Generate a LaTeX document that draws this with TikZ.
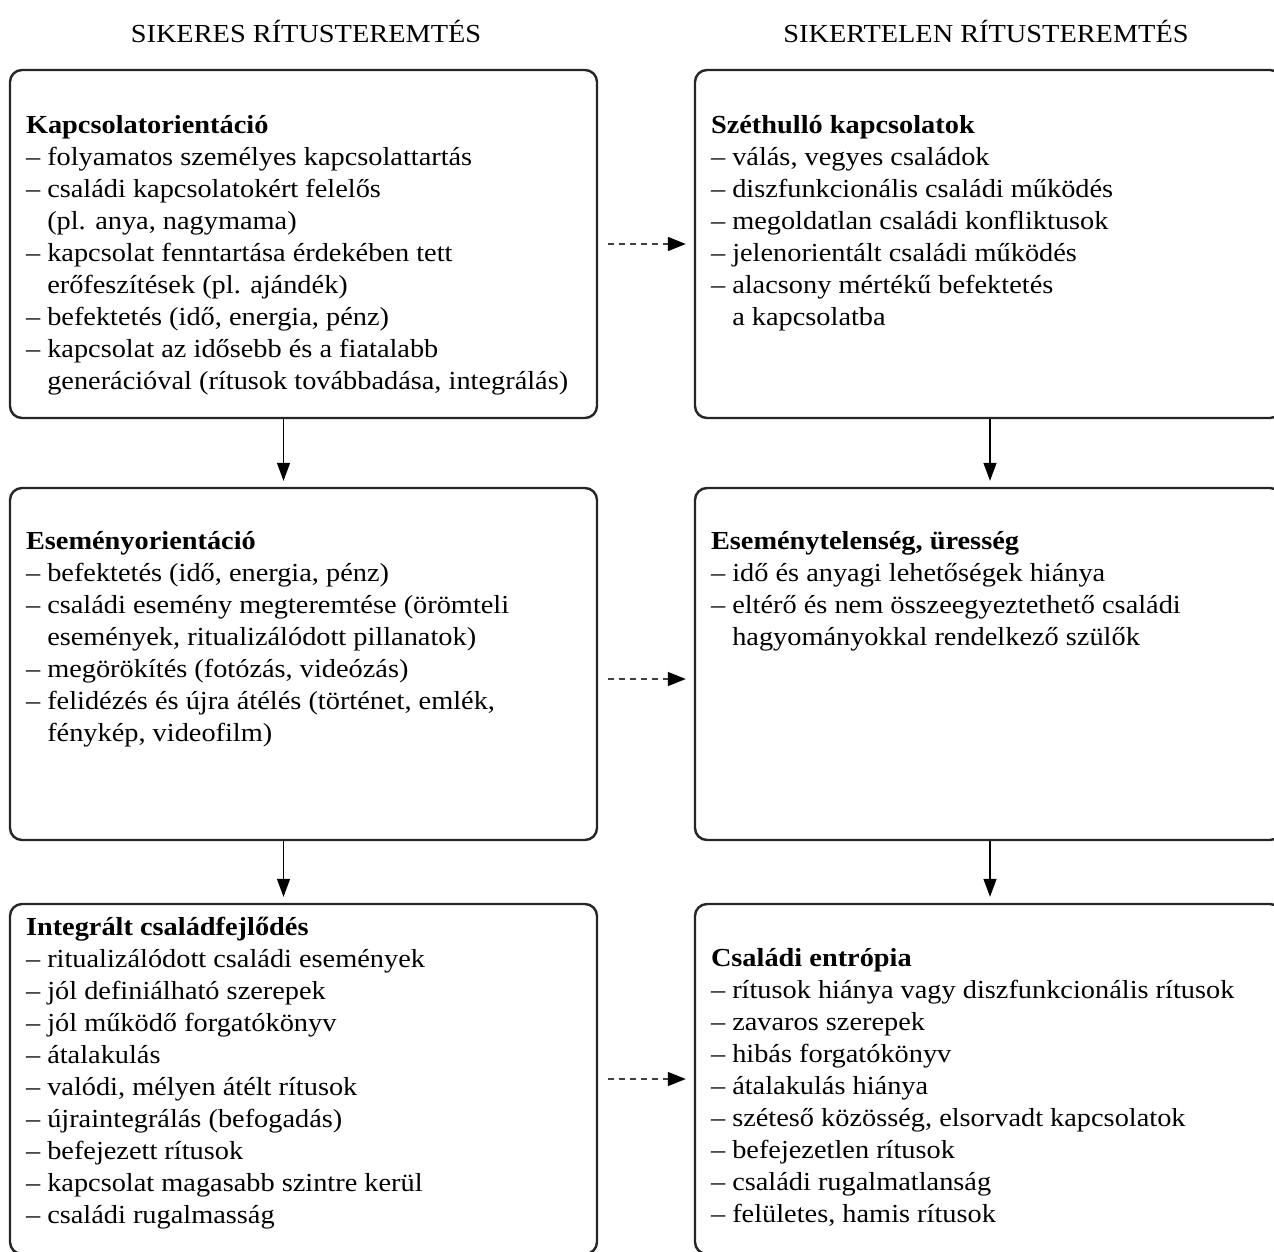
\documentclass[tikz,border=0pt]{standalone}
\usepackage{fontspec}
\setmainfont{Liberation Serif}[FakeStretch=1.09]
\usetikzlibrary{arrows.meta,positioning}
\tikzstyle{panel}=[rectangle, draw=black!85, line width=2.4pt, rounded corners=12pt, minimum width=587pt, inner sep=0pt]
\tikzstyle{entry}=[anchor=north west, align=left, inner sep=0pt, font=\fontsize{26}{32}\selectfont]
\tikzstyle{heading}=[anchor=base, inner sep=0pt, font=\fontsize{26}{32}\selectfont]
\tikzstyle{flow}=[-{Triangle[length=18pt,width=13pt]}, line width=1.3pt, shorten >=6pt]
\tikzstyle{link}=[-{Triangle[length=18pt,width=14pt,black]}, line width=1.4pt, dash pattern=on 6pt off 5pt, draw=black!75, shorten <=10pt, shorten >=8pt]
\newcommand{\cont}{\hphantom{– }}

\begin{document}
\begin{tikzpicture}[x=1pt,y=-1pt]
        \useasboundingbox (0,0) rectangle (1274,1251);
        \clip (0,0) rectangle (1274,1251);

        \node [style=heading] (sikeres) at (306, 42) {SIKERES RÍTUSTEREMTÉS};
        \node [style=heading] (sikertelen) at (986, 42) {SIKERTELEN RÍTUSTEREMTÉS};

        \node [style=panel, minimum height=348pt] (kapcs) at (303.5, 244) {};
        \node [style=panel, minimum height=348pt] (szet) at (988.5, 244) {};
        \node [style=panel, minimum height=352pt] (esem) at (303.5, 664) {};
        \node [style=panel, minimum height=352pt] (ures) at (988.5, 664) {};
        \node [style=panel, minimum height=350pt] (integ) at (303.5, 1079) {};
        \node [style=panel, minimum height=350pt] (entr) at (988.5, 1079) {};

        \node [style=entry] (kapcs-txt) at ([shift={(17pt,-46pt)}]kapcs.north west) {\textbf{Kapcsolatorientáció}\\
            – folyamatos személyes kapcsolattartás\\
            – családi kapcsolatokért felelős\\
            \cont(pl. anya, nagymama)\\
            – kapcsolat fenntartása érdekében tett\\
            \cont erőfeszítések (pl. ajándék)\\
            – befektetés (idő, energia, pénz)\\
            – kapcsolat az idősebb és a fiatalabb\\
            \cont generációval (rítusok továbbadása, integrálás)};
        \node [style=entry] (szet-txt) at ([shift={(17pt,-46pt)}]szet.north west) {\textbf{Széthulló kapcsolatok}\\
            – válás, vegyes családok\\
            – diszfunkcionális családi működés\\
            – megoldatlan családi konfliktusok\\
            – jelenorientált családi működés\\
            – alacsony mértékű befektetés\\
            \cont a kapcsolatba};
        \node [style=entry] (esem-txt) at ([shift={(17pt,-44pt)}]esem.north west) {\textbf{Eseményorientáció}\\
            – befektetés (idő, energia, pénz)\\
            – családi esemény megteremtése (örömteli\\
            \cont események, ritualizálódott pillanatok)\\
            – megörökítés (fotózás, videózás)\\
            – felidézés és újra átélés (történet, emlék,\\
            \cont fénykép, videofilm)};
        \node [style=entry] (ures-txt) at ([shift={(17pt,-44pt)}]ures.north west) {\textbf{Eseménytelenség, üresség}\\
            – idő és anyagi lehetőségek hiánya\\
            – eltérő és nem összeegyeztethető családi\\
            \cont hagyományokkal rendelkező szülők};
        \node [style=entry] (integ-txt) at ([shift={(17pt,-14pt)}]integ.north west) {\textbf{Integrált családfejlődés}\\
            – ritualizálódott családi események\\
            – jól definiálható szerepek\\
            – jól működő forgatókönyv\\
            – átalakulás\\
            – valódi, mélyen átélt rítusok\\
            – újraintegrálás (befogadás)\\
            – befejezett rítusok\\
            – kapcsolat magasabb szintre kerül\\
            – családi rugalmasság};
        \node [style=entry] (entr-txt) at ([shift={(17pt,-45pt)}]entr.north west) {\textbf{Családi entrópia}\\
            – rítusok hiánya vagy diszfunkcionális rítusok\\
            – zavaros szerepek\\
            – hibás forgatókönyv\\
            – átalakulás hiánya\\
            – széteső közösség, elsorvadt kapcsolatok\\
            – befejezetlen rítusok\\
            – családi rugalmatlanság\\
            – felületes, hamis rítusok};

        \draw [style=flow] ([xshift=-20pt]kapcs.south) -- ([xshift=-20pt]esem.north);
        \draw [style=flow] ([xshift=-20pt]esem.south) -- ([xshift=-20pt]integ.north);
        \draw [style=flow] ([xshift=1.5pt]szet.south) -- ([xshift=1.5pt]ures.north);
        \draw [style=flow] ([xshift=1.5pt]ures.south) -- ([xshift=1.5pt]entr.north);

        \draw [style=link] (kapcs.east) -- (szet.west);
        \draw [style=link] ([yshift=-15pt]esem.east) -- ([yshift=-15pt]ures.west);
        \draw [style=link] (integ.east) -- (entr.west);
\end{tikzpicture}
\end{document}
